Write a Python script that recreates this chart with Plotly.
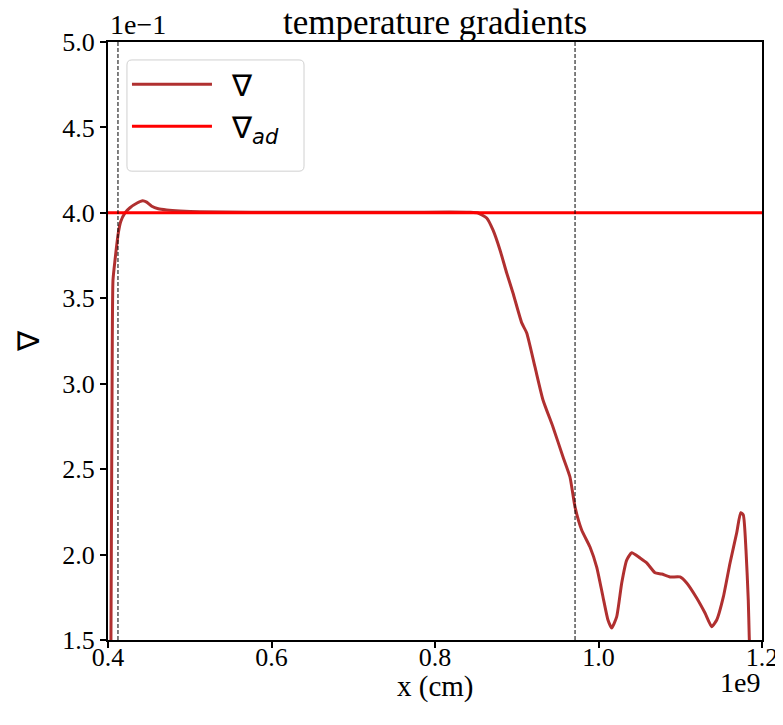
import plotly.graph_objects as go

# x in units of 1e9 cm, y in units of 1e-1
x_grad = [0.4035, 0.4049, 0.4061, 0.4086, 0.4126, 0.4155, 0.4208, 0.4269, 0.4351, 0.4424,
          0.4473, 0.4535, 0.4615, 0.4718, 0.4881, 0.5125, 0.6349, 0.7572, 0.8183, 0.8428,
          0.8526, 0.8632, 0.8709, 0.8795, 0.8877, 0.8954, 0.9061, 0.9122, 0.9223, 0.9321,
          0.9443, 0.9566, 0.9651, 0.9713, 0.9794, 0.9896, 0.9978, 1.0055, 1.0116, 1.0161,
          1.0222, 1.0284, 1.0345, 1.0406, 1.0508, 1.0590, 1.0691, 1.0773, 1.0875, 1.0997,
          1.1079, 1.1201, 1.1303, 1.1385, 1.1446, 1.1527, 1.1609, 1.1690, 1.1739, 1.1771,
          1.1804, 1.1832, 1.1844, 1.1853]
y_grad = [1.40, 2.905, 3.607, 3.724, 3.882, 3.948, 4.000, 4.030, 4.056, 4.071,
          4.063, 4.039, 4.024, 4.017, 4.011, 4.006, 4.003, 4.003, 4.005, 4.003,
          3.999, 3.970, 3.900, 3.783, 3.648, 3.531, 3.356, 3.297, 3.098, 2.905,
          2.747, 2.571, 2.454, 2.278, 2.144, 2.044, 1.927, 1.752, 1.617, 1.570,
          1.635, 1.834, 1.968, 2.011, 1.980, 1.951, 1.894, 1.886, 1.869, 1.869,
          1.834, 1.746, 1.658, 1.578, 1.617, 1.752, 1.951, 2.126, 2.245, 2.232,
          2.027, 1.734, 1.518, 1.38]
x_ad = [0.4, 1.2]
y_ad = [4.0, 4.0]
vlines = [0.4122, 0.9713]
x_ticks = [0.4, 0.6, 0.8, 1.0, 1.2]
x_ticklabels = ["0.4", "0.6", "0.8", "1.0", "1.2"]
y_ticks = [1.5, 2.0, 2.5, 3.0, 3.5, 4.0, 4.5, 5.0]
y_ticklabels = ["1.5", "2.0", "2.5", "3.0", "3.5", "4.0", "4.5", "5.0"]

serif = "Liberation Serif, Times New Roman, serif"
sans = "DejaVu Sans, sans-serif"

fig = go.Figure()
fig.add_trace(go.Scatter(x=x_grad, y=y_grad, mode="lines", name="\u2002∇",
                         line=dict(color="#B03030", width=3, shape="spline", smoothing=0.5),
                         legendgroup="a"))
fig.add_trace(go.Scatter(x=x_ad, y=y_ad, mode="lines", name="\u2002∇<sub><i>ad</i></sub>",
                         line=dict(color="#FF0000", width=3), legendgroup="b"))

for v in vlines:
    fig.add_shape(type="line", x0=v, x1=v, y0=0, y1=1, xref="x", yref="paper",
                  line=dict(color="black", width=1, dash="4px,2px"))

# rounded legend frame (paper coordinates)
lx0, lx1, ly0, ly1 = 0.029, 0.2997, 0.784, 0.970
rx, ry = 0.0076, 0.0084
frame_path = (f"M{lx0+rx},{ly1} L{lx1-rx},{ly1} Q{lx1},{ly1} {lx1},{ly1-ry} "
              f"L{lx1},{ly0+ry} Q{lx1},{ly0} {lx1-rx},{ly0} L{lx0+rx},{ly0} "
              f"Q{lx0},{ly0} {lx0},{ly0+ry} L{lx0},{ly1-ry} Q{lx0},{ly1} {lx0+rx},{ly1} Z")
fig.add_shape(type="path", path=frame_path, xref="paper", yref="paper",
              fillcolor="rgba(255,255,255,0.85)", line=dict(color="#D0D0D0", width=1), layer="above")

axis_common = dict(showline=True, linecolor="black", linewidth=2, mirror=True,
                   ticks="outside", ticklen=6, tickwidth=1.5, tickcolor="black",
                   showgrid=False, zeroline=False, automargin=False,
                   tickfont=dict(family=serif, size=26, color="black"))

fig.update_xaxes(range=[0.4, 1.2], tickvals=x_ticks, ticktext=x_ticklabels,
                 ticklabelstandoff=-13, **axis_common)
fig.update_yaxes(range=[1.5, 5.0], tickvals=y_ticks, ticktext=y_ticklabels,
                 title=dict(text="∇", font=dict(family=sans, size=30, color="black"), standoff=14),
                 **axis_common)

fig.add_annotation(text="x (cm)", xref="paper", yref="paper", x=0.5, y=0.0,
                   xanchor="center", yanchor="middle", showarrow=False, yshift=-46,
                   font=dict(family=serif, size=29, color="black"))
fig.add_annotation(text="1e−1", xref="paper", yref="paper", x=0.0, y=1.0,
                   xanchor="left", yanchor="bottom", showarrow=False, yshift=0,
                   font=dict(family=serif, size=28, color="black"))
fig.add_annotation(text="1e9", xref="paper", yref="paper", x=1.0, y=0.0,
                   xanchor="right", yanchor="middle", showarrow=False, yshift=-42,
                   font=dict(family=serif, size=28, color="black"))

fig.update_layout(
    width=775, height=717,
    margin=dict(l=100, r=21, t=34, b=85),
    paper_bgcolor="white", plot_bgcolor="white",
    title=dict(text="temperature gradients", x=0.5, xref="paper", xanchor="center",
               y=1.0, yref="paper", yanchor="bottom", pad=dict(b=8),
               font=dict(family=serif, size=35, color="black")),
    legend=dict(x=0.029, y=0.973, xanchor="left", yanchor="top",
                bgcolor="rgba(0,0,0,0)", bordercolor="rgba(0,0,0,0)", borderwidth=0,
                font=dict(family=sans, size=30, color="black"),
                itemwidth=80, tracegroupgap=19, traceorder="normal"),
    showlegend=True,
)

fig.write_html("out.html")
